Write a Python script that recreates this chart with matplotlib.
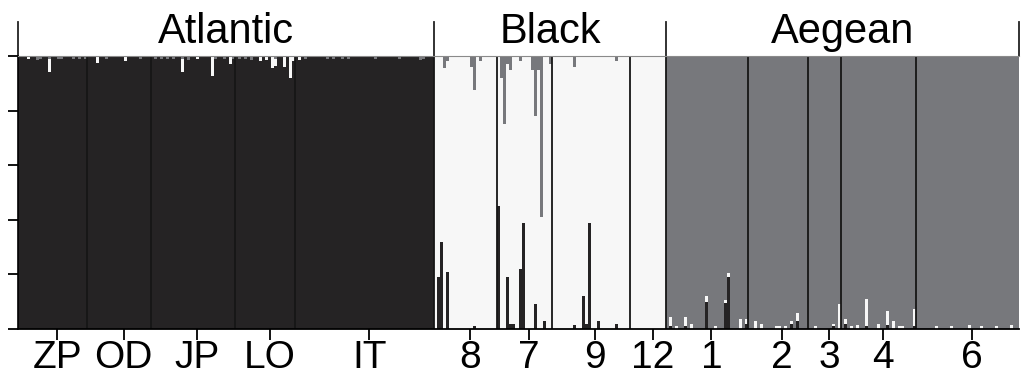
import numpy as np
import matplotlib.pyplot as plt
from matplotlib import transforms

plt.rcParams['font.family'] = ['Liberation Sans', 'DejaVu Sans']

# populations, sizes (individuals) and the region they belong to
pops = ['ZP', 'OD', 'JP', 'LO', 'IT', '8', '7', '9', '12', '1', '2', '3', '4', '6']
sizes = [23, 21, 28, 20, 46, 21, 18, 26, 12, 27, 20, 11, 25, 34]
home = [0, 0, 0, 0, 0, 1, 1, 1, 1, 2, 2, 2, 2, 2]   # 0 Atlantic, 1 Black, 2 Aegean
groups = ['Atlantic', 'Black', 'Aegean']

# admixed individuals: (index in pop, q_Atlantic, q_Black, q_Aegean); None = remainder
admix = {
    'ZP': [(3, None, .01, 0), (6, None, 0, .015), (7, None, 0, .01), (10, None, .05, .01),
           (13, None, 0, .01), (14, None, 0, .01), (18, None, 0, .01), (20, None, 0, .01),
           (22, None, 0, .012)],
    'OD': [(3, None, .025, 0), (6, None, 0, .01), (12, None, .02, 0), (17, None, 0, .01)],
    'JP': [(1, None, 0, .01), (3, None, 0, .012), (5, None, 0, .01), (7, None, 0, .01),
           (10, None, .05, .01), (12, None, 0, .015), (15, None, .012, 0), (20, None, .075, 0),
           (21, None, 0, .012), (24, None, 0, .01), (26, None, .03, 0), (27, None, 0, .01)],
    'LO': [(1, None, 0, .012), (3, None, 0, .01), (5, None, 0, .015), (8, None, .02, 0),
           (10, None, .015, 0), (12, None, .045, 0), (13, None, .025, .01), (16, None, .04, 0),
           (18, None, .08, 0), (19, None, .02, 0)],
    'IT': [(1, None, .015, 0), (3, None, 0, .01), (10, None, 0, .01), (12, None, 0, .01),
           (15, None, 0, .012), (17, None, 0, .01), (26, None, 0, .01), (34, None, 0, .01),
           (41, None, 0, .015), (42, None, 0, .01)],
    '8': [(1, .19, None, 0), (2, .32, None, 0), (3, 0, None, .045), (4, .21, None, .02),
          (12, 0, None, .04), (13, .01, None, .125), (15, 0, None, .02)],
    '7': [(0, .45, None, 0), (1, 0, None, .08), (2, 0, None, .25), (3, .19, None, .03),
          (4, .02, None, .05), (5, .02, None, 0), (7, .22, None, .02), (8, .39, None, 0),
          (11, 0, None, .05), (12, .09, None, .22), (13, 0, None, .05), (14, 0, None, .59),
          (15, .03, None, 0), (17, 0, None, .03)],
    '9': [(7, .015, None, .04), (10, .12, None, 0), (11, .02, None, 0), (12, .39, None, 0),
          (15, .03, None, 0), (21, .02, None, .02)],
    '12': [],
    '1': [(1, .01, .033, None), (3, 0, .01, None), (6, .01, .035, None), (8, 0, .02, None),
          (13, .10, .02, None), (16, 0, .01, None), (19, .095, .01, None), (20, .19, .015, None),
          (24, 0, .035, None), (26, .02, .015, None)],
    '2': [(2, 0, .03, None), (4, 0, .02, None), (9, 0, .01, None), (10, 0, .01, None),
          (12, 0, .01, None), (14, .02, .01, None), (16, .03, .03, None)],
    '3': [(2, 0, .01, None), (8, .01, .01, None), (10, 0, .09, None)],
    '4': [(1, .02, .015, None), (3, 0, .01, None), (5, 0, .015, None), (8, .01, .10, None),
          (12, 0, .02, None), (15, .015, .05, None), (17, 0, .03, None), (19, 0, .01, None),
          (20, 0, .01, None), (24, .01, .065, None)],
    '6': [(6, 0, .01, None), (11, 0, .01, None), (17, 0, .015, None), (21, 0, .01, None),
          (26, 0, .01, None), (31, 0, .015, None)],
}

colors = ['#252324', '#f7f7f7', '#77787c']

# build Q matrix
n = sum(sizes)
Q = np.zeros((n, 3))
start = 0
for p, s, h in zip(pops, sizes, home):
    Q[start:start + s, h] = 1.0
    for i, a, b, c in admix[p]:
        row = [a, b, c]
        others = sum(v for v in row if v is not None)
        row = [1 - others if v is None else v for v in row]
        Q[start + i] = row
    start += s

fig = plt.figure(figsize=(10.21, 3.86), dpi=100)
ax = fig.add_axes([18 / 1021, 57 / 386, 1001 / 1021, 273 / 386])

x = np.arange(n)
bottom = np.zeros(n)
for k in range(3):
    ax.bar(x, Q[:, k], bottom=bottom, width=1.0, align='edge', color=colors[k], linewidth=0)
    bottom += Q[:, k]

edges = np.cumsum([0] + sizes)
for e in edges[1:-1]:
    ax.axvline(e, color='#161616', lw=1.3)

ax.set_xlim(0, n)
ax.set_ylim(0, 1)

centers = (edges[:-1] + edges[1:]) / 2 + 1.5
ax.set_xticks(centers)
ax.set_xticklabels(pops, fontsize=28)
ax.set_yticks(np.arange(0, 1.01, 0.2))
ax.set_yticklabels([])
ax.tick_params(axis='x', length=8, width=1.3, pad=0)
ax.tick_params(axis='y', length=7.5, width=1.3)

ax.spines['right'].set_visible(False)
ax.spines['top'].set_color('#8a8a8a')
ax.spines['left'].set_linewidth(1.2)
ax.spines['bottom'].set_linewidth(1.3)

# region brackets above the plot
trans = transforms.blended_transform_factory(ax.transData, ax.transAxes)
gedges = [0]
for g in range(3):
    gedges.append(gedges[-1] + sum(s for s, h in zip(sizes, home) if h == g))
for e in gedges:
    ax.plot([e, e], [1, 1.125], color='#222222', lw=1.3, transform=trans, clip_on=False)
for g, name in enumerate(groups):
    ax.text((gedges[g] + gedges[g + 1]) / 2, 1.015, name, transform=trans,
            ha='center', va='bottom', fontsize=30)

fig.savefig('out.png', dpi=100)
